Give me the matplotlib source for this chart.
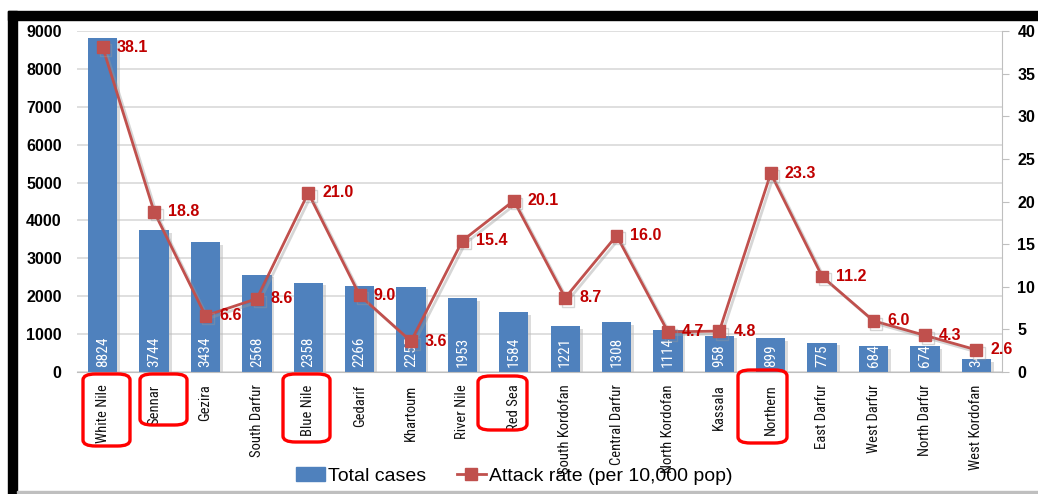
import matplotlib
matplotlib.use('Agg')
import matplotlib.pyplot as plt
from matplotlib.patches import Rectangle, FancyBboxPatch
from matplotlib.lines import Line2D
import matplotlib.patheffects as pe
from matplotlib import font_manager

regions = ['White Nile', 'Sennar', 'Gezira', 'South Darfur', 'Blue Nile',
           'Gedarif', 'Khartoum', 'River Nile', 'Red Sea', 'South Kordofan',
           'Central Darfur', 'North Kordofan', 'Kassala', 'Northern',
           'East Darfur', 'West Darfur', 'North Darfur', 'West Kordofan']
total_cases = [8824, 3744, 3434, 2568, 2358, 2266, 2255, 1953, 1584, 1221,
               1308, 1114, 958, 899, 775, 684, 674, 343]
attack_rate = [38.1, 18.8, 6.6, 8.6, 21.0, 9.0, 3.6, 15.4, 20.1, 8.7,
               16.0, 4.7, 4.8, 23.3, 11.2, 6.0, 4.3, 2.6]
highlighted = ['White Nile', 'Sennar', 'Blue Nile', 'Red Sea', 'Northern']

W, H = 1038, 494
BAR = '#4f81bd'
LINE = '#c0504d'
LABEL = '#c00000'

# a condensed face for the region names, falling back to Carlito
names = {f.name for f in font_manager.fontManager.ttflist}
narrow, narrow_size = 'DejaVu Sans', 9
for cand, size in (('Roboto Condensed', 10.5), ('Open Sans Condensed', 10.5),
                   ('PT Sans Narrow', 11), ('Archivo Narrow', 10.5),
                   ('Liberation Sans Narrow', 10.5), ('Carlito', 10)):
    if cand in names:
        narrow, narrow_size = cand, size
        break
plt.rcParams['font.family'] = ['Liberation Sans', 'DejaVu Sans']

fig = plt.figure(figsize=(W / 100, H / 100), dpi=100)
ax = fig.add_axes([77 / W, 1 - 372 / H, (1002 - 77) / W, (372 - 31) / H])
ax2 = ax.twinx()

x = list(range(len(regions)))
ax.bar(x, total_cases, width=0.57, color=BAR, zorder=2,
       path_effects=[pe.SimplePatchShadow(offset=(2, -2), shadow_rgbFace='#bbbbbb', alpha=0.5),
                     pe.Normal()])
for xi, v in zip(x, total_cases):
    ax.text(xi, 120, str(v), rotation=90, ha='center', va='bottom',
            color='white', fontsize=11, family=narrow, zorder=3)

ax.set_xlim(-0.5, len(regions) - 0.5)
ax.set_ylim(0, 9000)
ax.set_yticks(range(0, 9001, 1000))
ax.grid(axis='y', color='#d9d9d9', lw=1.2, zorder=0)
ax.set_axisbelow(True)
for s in ('top', 'right', 'left'):
    ax.spines[s].set_visible(False)
ax.spines['bottom'].set_color('#bfbfbf')
ax.tick_params(axis='y', length=0, pad=11, labelsize=11.5)
for t in ax.get_yticklabels():
    t.set_fontweight('bold')
ax.set_xticks(x)
ax.set_xticklabels(regions, rotation=90, family=narrow, fontsize=narrow_size,
                   color='#111111')
ax.tick_params(axis='x', length=0, pad=9)

ax2.plot(x, attack_rate, color=LINE, lw=2, marker='s', ms=8.5, zorder=4,
         path_effects=[pe.SimpleLineShadow(offset=(2, -2), shadow_color='#999999', alpha=0.4),
                       pe.Normal()])
for xi, v in zip(x, attack_rate):
    ax2.annotate(f'{v:.1f}', (xi, v), xytext=(10, 0), textcoords='offset points',
                 ha='left', va='center', color=LABEL, fontsize=11.5,
                 fontweight='bold', zorder=5)
ax2.set_ylim(0, 40)
ax2.set_yticks(range(0, 41, 5))
for s in ('top', 'left', 'bottom'):
    ax2.spines[s].set_visible(False)
ax2.spines['right'].set_color('#bfbfbf')
ax2.tick_params(axis='y', length=5, color='#bfbfbf', pad=6, labelsize=11.5)
for t in ax2.get_yticklabels():
    t.set_fontweight('bold')
ax2.set_zorder(ax.get_zorder() + 1)
ax2.patch.set_visible(False)

# red highlight boxes around some region labels (pixel coords from the reference)
boxes = {'White Nile': (83, 374, 130, 446), 'Sennar': (140, 374, 187, 425),
         'Blue Nile': (283, 374, 330, 442), 'Red Sea': (478, 376, 527, 430),
         'Northern': (738, 370, 787, 443)}
for name in highlighted:
    x0, y0, x1, y1 = boxes[name]
    fig.patches.append(FancyBboxPatch(
        (x0 / W, 1 - y1 / H), (x1 - x0) / W, (y1 - y0) / H,
        boxstyle='round,pad=0,rounding_size=0.012', transform=fig.transFigure,
        fill=False, ec='#ff0000', lw=2.4, zorder=10))

handles = [Rectangle((0, 0), 1, 1, color=BAR),
           Line2D([], [], color=LINE, lw=2, marker='s', ms=8.5)]
fig.legend(handles, ['Total cases', 'Attack rate (per 10,000 pop)'],
           loc='center', bbox_to_anchor=(514 / W, 1 - 476 / H), ncol=2,
           frameon=False, fontsize=14, handlelength=1.5, columnspacing=1.6,
           handletextpad=0.15)

# black frame at top and left, faint line at the bottom
fig.patches.append(Rectangle((8 / W, 1 - 20 / H), 1, 9 / H, transform=fig.transFigure,
                             color='black', zorder=20))
fig.patches.append(Rectangle((8 / W, 0), 9 / W, 1 - 11 / H, transform=fig.transFigure,
                             color='black', zorder=20))
fig.patches.append(Rectangle((17 / W, 1 - 493 / H), 1, 2 / H, transform=fig.transFigure,
                             color='#bfbfbf', zorder=20))

fig.savefig('out.png', dpi=100)
